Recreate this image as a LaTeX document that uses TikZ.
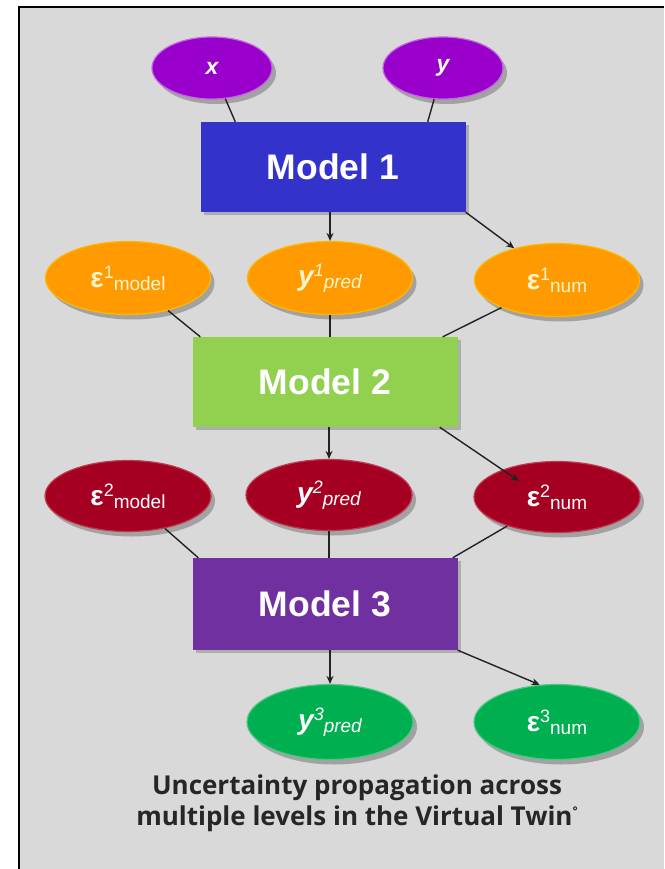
\documentclass[tikz,border=0pt]{standalone}
\usepackage{fontspec}
\setmainfont{Liberation Sans}
\newfontfamily\capfont{Open Sans}
\usetikzlibrary{shapes.geometric,arrows.meta,shadows,calc}
\definecolor{bggray}{HTML}{D9D9D9}
\definecolor{violetin}{HTML}{9900CC}
\definecolor{mblue}{HTML}{3333CC}
\definecolor{orangeell}{HTML}{FF9A00}
\definecolor{mgreen}{HTML}{92D050}
\definecolor{redell}{HTML}{A50021}
\definecolor{mpurple}{HTML}{7030A0}
\definecolor{greenell}{HTML}{00B050}
\definecolor{paleyellow}{HTML}{FFF5CC}
\definecolor{linecol}{HTML}{222222}
\definecolor{captcol}{HTML}{262626}
\newcommand{\ulab}[3]{\fontsize{28}{28}\selectfont\bfseries #1\raisebox{9pt}{\fontsize{18}{18}\selectfont\mdseries #2}\raisebox{-3pt}{\fontsize{19}{19}\selectfont\mdseries #3}}
\begin{document}
\begin{tikzpicture}[x=1pt,y=-1pt,
  softshadow/.style={drop shadow={shadow xshift=4pt,shadow yshift=-5pt,opacity=0.25,fill=black}},
  inell/.style={ellipse,fill=violetin,draw=violetin!60!white,line width=1.2pt,minimum width=120pt,minimum height=62pt,inner sep=0pt,softshadow,text=white,font=\fontsize{23}{23}\selectfont\bfseries\itshape},
  oell/.style={ellipse,fill=orangeell,draw=orangeell!70!yellow,line width=1.2pt,minimum width=165pt,minimum height=73pt,inner sep=0pt,softshadow,text=paleyellow},
  rell/.style={ellipse,fill=redell,draw=redell!70!pink,line width=1.2pt,minimum width=166pt,minimum height=71pt,inner sep=0pt,softshadow,text=white},
  gell/.style={ellipse,fill=greenell,draw=greenell!70!white,line width=1.2pt,minimum width=166pt,minimum height=75pt,inner sep=0pt,softshadow,text=white},
  modelbox/.style={rectangle,minimum width=265pt,minimum height=90pt,inner sep=0pt,text=white,font=\fontsize{35.5}{35.5}\selectfont\bfseries,drop shadow={shadow xshift=3pt,shadow yshift=-3pt,opacity=0.2,fill=black}},
  conn/.style={draw=linecol,line width=1.4pt},
  arr/.style={conn,-{Stealth[length=8pt,width=7pt]}}
]
\useasboundingbox (0,0) rectangle (664,869);
% background
\fill[bggray] (19,7) rectangle (664,869);
\draw[black,line width=2pt] (19,869) -- (19,7) -- (664,7);

% nodes
\node[inell] (x) at (212,68) {x};
\node[inell] (y) at (443,68) {y};
\node[modelbox,fill=mblue] (m1) at (333,167) {Model 1};

\node[oell] (e1m) at (128,278) {\ulab{ε}{1}{model}};
\node[oell] (y1p) at (330,278) {\ulab{\itshape y}{\itshape 1}{\itshape pred}};
\node[oell] (e1n) at (557,280) {\ulab{ε}{1}{num}};

\node[modelbox,fill=mgreen] (m2) at (325,382) {Model 2};

\node[rell] (e2m) at (128,496) {\ulab{ε}{2}{model}};
\node[rell] (y2p) at (329,495) {\ulab{\itshape y}{\itshape 2}{\itshape pred}};
\node[rell] (e2n) at (557,497) {\ulab{ε}{2}{num}};

\node[modelbox,fill=mpurple,minimum height=92pt] (m3) at (325,604) {Model 3};

\node[gell] (y3p) at (330,722) {\ulab{\itshape y}{\itshape 3}{\itshape pred}};
\node[gell] (e3n) at (557,722) {\ulab{ε}{3}{num}};

\coordinate (e2nin) at (519,481);

\node[text=captcol,align=center,font=\capfont\bfseries\fontsize{26}{31}\selectfont] (cap) at (357,803)
  {Uncertainty propagation across\\multiple levels in the Virtual Twin\raisebox{10pt}{\fontsize{12}{12}\selectfont °}};

% connectors
\draw[conn] (x) -- ($(m1.north west)+(35,0)$);
\draw[conn] (y) -- ($(m1.north east)+(-38,0)$);
\draw[arr] (y1p.north |- m1.south) -- (y1p.north);
\draw[arr] (m1.south east) -- (e1n);

\draw[conn] (e1m) -- ($(m2.north west)+(8,0)$);
\draw[conn] (y1p) -- (y1p |- m2.north);
\draw[conn] (e1n) -- ($(m2.north east)+(-15,0)$);
\draw[arr] (y2p.north |- m2.south) -- (y2p.north);
\draw[arr] ($(m2.south east)+(-18,0)$) -- (e2nin);

\draw[conn] (e2m) -- ($(m3.north west)+(6,0)$);
\draw[conn] (y2p) -- (y2p |- m3.north);
\draw[conn] (e2n) -- ($(m3.north east)+(-5,0)$);
\draw[arr] (y3p.north |- m3.south) -- (y3p.north);
\draw[arr] (m3.south east) -- (e3n.115);
\end{tikzpicture}
\end{document}
